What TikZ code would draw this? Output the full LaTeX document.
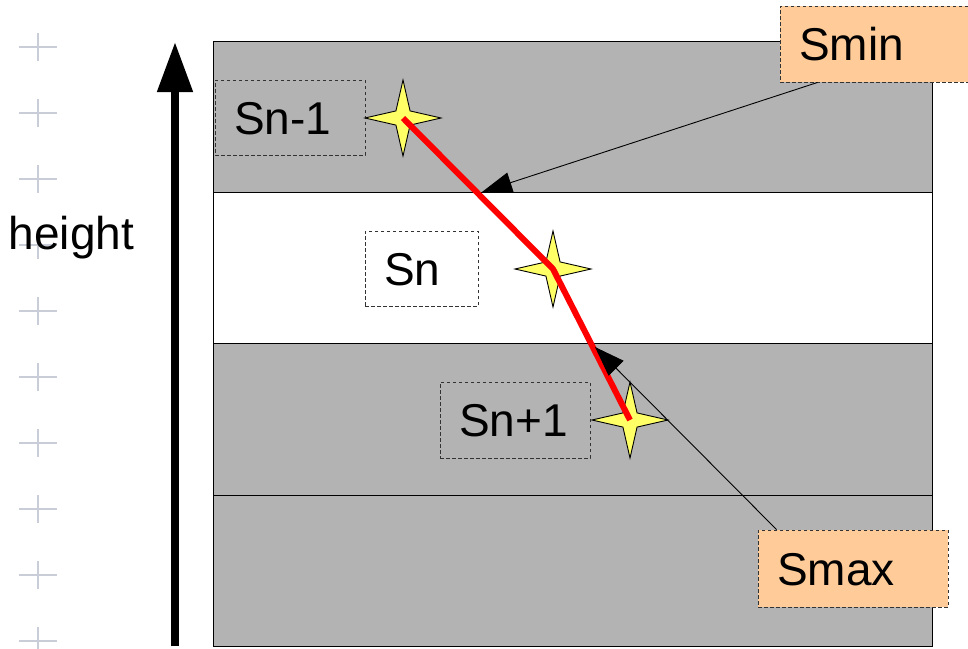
\documentclass[tikz,border=0pt]{standalone}
\usepackage{fontspec}
\setmainfont{Liberation Sans}
\usetikzlibrary{shapes.geometric,arrows.meta}

\definecolor{bandgray}{HTML}{B3B3B3}
\definecolor{peach}{HTML}{FFCC99}
\definecolor{starfill}{HTML}{FFFF66}
\definecolor{gridmark}{HTML}{C9CDD8}

\begin{document}
\begin{tikzpicture}[x=1pt,y=-1pt,
  band/.style={fill=bandgray,draw=black,line width=1pt},
  clearband/.style={fill=white,draw=black,line width=1pt},
  bigtext/.style={font=\fontsize{46}{52}\selectfont},
  lab/.style={bigtext,draw=black!80,dash pattern=on 3.5pt off 2.5pt,line width=0.9pt,
    text height=33pt,text depth=0pt,inner xsep=19pt,inner ysep=0pt,align=left},
  tag/.style={lab,fill=peach},
  sparkle/.style={star,star points=4,star point ratio=3.8,minimum size=76pt,
    inner sep=0pt,fill=starfill,draw=black,line width=0.9pt},
  conn/.style={line width=0.9pt,-{Triangle[length=30pt,width=21pt]}},
  tick/.style={gridmark,line width=2pt}
]
\useasboundingbox (0,0) rectangle (968,648);

% layered strata
\draw[band] (213,41) rectangle (932,192);
\draw[clearband] (213,192) rectangle (932,343);
\draw[band] (213,343) rectangle (932,495);
\draw[band] (213,495) rectangle (932,646);

% scale marks on the left
\foreach \k in {0,...,9}{
  \draw[tick] (19,47+66*\k) -- (57,47+66*\k);
  \draw[tick] (38,33+66*\k) -- (38,61+66*\k);
}

% vertical axis
\node[bigtext,anchor=base] (hlabel) at (71.5,249) {height};
\coordinate (axbot) at (175,646);
\coordinate (axtop) at (175,42);
\draw[line width=8pt,-{Triangle[length=50pt,width=34pt]}] (axbot) -- (axtop);

% stratum labels
\node[lab,minimum height=75pt,text width=112pt] (snm1) at (290,117.5) {Sn-1};
\node[lab,minimum height=75pt,text width=75pt] (sn) at (421.5,268.5) {Sn};
\node[lab,minimum height=76pt,text width=112pt] (snp1) at (515,420) {Sn+1};

% sample points
\node[sparkle] (p1) at (403,118) {};
\node[sparkle] (p2) at (553,269) {};
\node[sparkle] (p3) at (630,420) {};

% path through the samples
\draw[red,line width=6pt,line join=round] (p1.center) -- (p2.center) -- (p3.center);

% bound labels
\node[tag,minimum height=76pt,text width=150pt] (smin) at (874,44) {Smin};
\node[tag,minimum height=77pt,text width=152pt] (smax) at (853,568.5) {Smax};

\coordinate (tipmin) at (482,192);
\coordinate (tipmax) at (595,347);
\draw[conn] ([xshift=38pt]smin.south west) -- (tipmin);
\draw[conn] ([xshift=19pt]smax.north west) -- (tipmax);
\end{tikzpicture}
\end{document}
